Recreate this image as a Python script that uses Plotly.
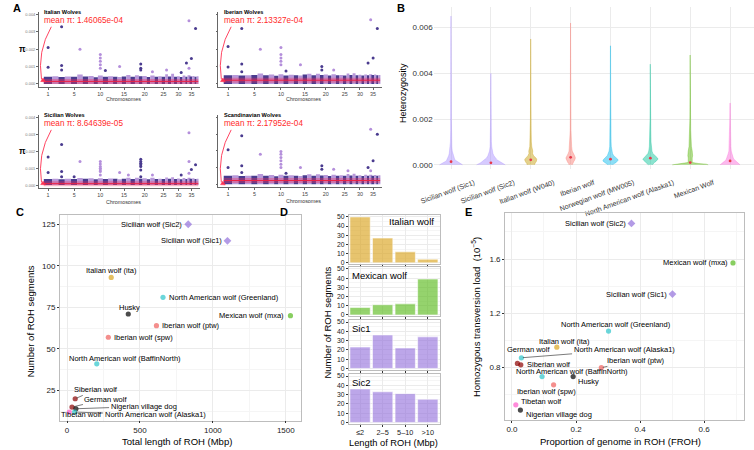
import numpy as np
import plotly.graph_objects as go

W, H = 754, 450

# ======================= DATA =======================
# ---- Panel A : nucleotide diversity (pi) along dog chromosomes ----
chrom_len_mb = [122.68, 85.43, 91.89, 88.28, 88.92, 77.57, 80.97, 74.75, 61.08, 69.33,
                74.39, 72.50, 63.24, 60.97, 64.19, 59.63, 64.29, 55.84, 53.74, 58.13,
                50.86, 61.44, 52.29, 47.70, 51.63, 38.96, 45.88, 41.18, 41.85, 40.21,
                39.80, 38.81, 31.38, 42.12, 26.52, 30.81, 30.90, 23.91]
chrom_tick_labels = [1, 5, 10, 15, 20, 25, 30, 35]
pop_titles = ["Italian Wolves", "Iberian Wolves", "Sicilian Wolves", "Scandinavian Wolves"]
pop_mean_pi = [1.46065e-04, 2.13327e-04, 8.64639e-05, 2.17952e-04]
PI_UNIT = 1e-4
# upper edge of the dense band of windows, per chromosome (x 1e-4)
band_top_ita = [4.2, 4.4, 4.0, 4.3, 4.1, 5.5, 4.3, 4.6, 3.9, 4.8, 4.1, 4.5, 4.2, 4.0, 4.3, 5.2, 4.1, 5.0, 4.4,
                4.6, 4.0, 4.8, 4.2, 4.4, 4.1, 5.6, 4.3, 5.8, 4.2, 4.5, 4.0, 4.9, 4.1, 5.0, 4.3, 4.6, 4.2, 4.4]
band_top_ibe = [5.0, 5.2, 4.8, 5.0, 5.1, 6.0, 5.0, 5.4, 4.7, 5.6, 4.9, 5.3, 5.0, 4.8, 5.5, 5.8, 5.0, 5.9, 5.2,
                5.4, 4.9, 5.6, 5.0, 5.2, 4.9, 6.0, 5.1, 6.2, 5.0, 5.3, 4.8, 5.5, 5.0, 5.6, 5.1, 5.4, 5.0, 5.2]
band_top_sic = [3.6, 3.8, 3.5, 3.7, 3.6, 4.2, 3.7, 4.0, 3.5, 4.1, 3.6, 3.9, 3.7, 3.5, 3.8, 4.4, 3.6, 4.3, 3.8,
                4.0, 3.5, 4.3, 3.6, 3.8, 3.6, 4.5, 3.7, 4.6, 3.6, 3.9, 3.5, 4.2, 3.6, 4.3, 3.7, 4.0, 3.6, 3.8]
band_top_sca = [5.0, 5.3, 4.9, 5.1, 5.0, 6.1, 5.1, 5.5, 4.8, 5.7, 5.0, 5.4, 5.1, 4.9, 5.4, 5.9, 5.0, 6.0, 5.2,
                5.5, 4.9, 5.7, 5.0, 5.3, 5.0, 6.1, 5.2, 6.3, 5.0, 5.4, 4.9, 5.6, 5.0, 5.7, 5.1, 5.5, 5.0, 5.3]
# outlying windows: chromosome and pi (x 1e-4)
out_chr_ita = [1, 1, 3, 3, 3, 6, 10, 10, 10, 10, 10, 11, 14, 19, 19, 19, 22, 26, 31, 33, 34, 34, 35, 37]
out_pi_ita = [21, 9.6, 33, 10.6, 8, 20, 17, 15, 13, 11, 9, 7.7, 10, 11.5, 9, 8, 7, 8, 6.6, 12, 36.4, 9, 14.7, 32]
out_chr_ibe = [1, 1, 3, 3, 3, 6, 10, 10, 10, 10, 10, 11, 14, 19, 19, 22, 33, 34, 35, 37]
out_pi_ibe = [21.5, 9.8, 32, 11.5, 7, 20, 21, 17, 15, 13, 11, 7.5, 11, 10, 8, 8, 12, 37, 15, 32]
out_chr_sic = [1, 1, 3, 3, 3, 5, 6, 10, 10, 10, 10, 10, 10, 10, 14, 16, 19, 19, 19, 19, 19, 19, 19, 22, 31,
               34, 34, 34, 35, 37]
out_pi_sic = [16.7, 7.4, 24, 8, 5, 5, 14, 14, 12.5, 11, 10, 9, 8, 6, 7.4, 6, 15.3, 14, 13, 12, 11, 9, 5, 6, 6,
              31, 14, 7, 9.3, 12]
out_chr_sca = [1, 1, 3, 3, 3, 6, 10, 10, 10, 10, 10, 10, 11, 14, 19, 19, 22, 26, 33, 34, 34, 35, 37]
out_pi_sca = [20.6, 10, 29, 11, 7, 18, 19.6, 18, 16, 14, 12, 10, 6.5, 10, 11, 9, 9, 8, 10, 33, 8, 14, 30]

# ---- Panel B : heterozygosity violins (density profile) ----
het_groups = ["Sicilian wolf (Sic1)", "Sicilian wolf (Sic2)", "Italian wolf (W040)", "Iberian wolf",
              "Norwegian wolf (MW005)", "North American wolf (Alaska1)", "Mexican Wolf", "Tibetan wolf (CAN8)"]
het_colors = ["#A58AFF", "#A58AFF", "#C49A00", "#F8766D", "#00B6EB", "#00C094", "#53B400", "#FB61D7"]
het_levels = [0, 0.00003, 0.00006, 0.0001, 0.00015, 0.0002, 0.00025, 0.0003, 0.0004, 0.0005, 0.0006,
              0.0008, 0.001, 0.0015, 0.002, 0.003]
het_halfwidth = [
    [0.29, 0.26, 0.22, 0.18, 0.14, 0.11, 0.09, 0.08, 0.06, 0.045, 0.03, 0.02, 0.015, 0.01, 0.008, 0.006],
    [0.36, 0.33, 0.29, 0.25, 0.20, 0.17, 0.14, 0.11, 0.075, 0.05, 0.035, 0.02, 0.013, 0.009, 0.007, 0.005],
    [0.09, 0.095, 0.10, 0.12, 0.14, 0.15, 0.15, 0.13, 0.07, 0.045, 0.05, 0.025, 0.015, 0.01, 0.008, 0.006],
    [0.04, 0.045, 0.05, 0.07, 0.08, 0.10, 0.11, 0.12, 0.10, 0.06, 0.04, 0.025, 0.017, 0.01, 0.008, 0.006],
    [0.06, 0.075, 0.09, 0.14, 0.18, 0.19, 0.18, 0.14, 0.08, 0.05, 0.035, 0.02, 0.015, 0.01, 0.007, 0.005],
    [0.05, 0.06, 0.07, 0.10, 0.14, 0.17, 0.19, 0.18, 0.11, 0.06, 0.04, 0.025, 0.017, 0.011, 0.008, 0.005],
    [0.45, 0.40, 0.20, 0.06, 0.05, 0.045, 0.045, 0.05, 0.06, 0.06, 0.05, 0.03, 0.02, 0.012, 0.009, 0.006],
    [0.25, 0.23, 0.20, 0.17, 0.14, 0.11, 0.095, 0.08, 0.06, 0.045, 0.03, 0.02, 0.015, 0.009, 0.007, 0.005],
]
het_max = [0.0065, 0.0040, 0.0055, 0.0062, 0.0052, 0.0044, 0.0048, 0.0027]
het_median = [0.00014, 0.00009, 0.00022, 0.00033, 0.00025, 0.00029, 0.00010, 0.00017]

# ---- Panels C & E : per-sample ROH statistics ----
samples = ["Sicilian wolf (Sic2)", "Sicilian wolf (Sic1)", "Italian wolf (ita)", "North American wolf (Greenland)",
           "Husky", "Mexican wolf (mxa)", "Iberian wolf (ptw)", "Iberian wolf (spw)",
           "North American wolf (BaffinNorth)", "Siberian wolf", "German wolf", "Nigerian village dog",
           "Tibetan wolf", "North American wolf (Alaska1)"]
sample_group = ["sic", "sic", "ita", "naw", "dog", "mex", "ibe", "ibe", "naw", "eur", "eur", "dog", "tib", "naw"]
roh_total_mbp = [831, 1100, 303, 658, 420, 1532, 613, 283, 204, 56, 34, 61, 16, 52]
roh_count = [125, 115, 93, 81, 71, 70, 64, 57, 41, 20, 15, 14, 12, 12]
froh = [0.373, 0.501, 0.140, 0.3015, 0.191, 0.690, 0.279, 0.130, 0.094, 0.0276, 0.017, 0.0264, 0.012, 0.0294]
hom_tv_load = [1.863, 1.341, 0.949, 1.068, 0.732, 1.571, 0.798, 0.671, 0.732, 0.819, 0.829, 0.485, 0.524, 0.871]

# ---- Panel D : ROH length classes ----
roh_bins = ["≤2", "2–5", "5–10", ">10"]
roh_facets = ["Italian wolf", "Mexican wolf", "Sic1", "Sic2"]
roh_bin_counts = [[50, 27, 12, 4], [8, 11, 12, 39], [23, 36, 22, 34], [36, 33, 31, 25]]

# ======================= STYLE =======================
FONT = "Liberation Sans, Arial, Helvetica, sans-serif"
group_color = {"sic": "#9370DB", "ita": "#DAA520", "naw": "#2CC5CB", "dog": "#000000",
               "mex": "#55B91C", "ibe": "#EF5F5C", "eur": "#8B0000", "tib": "#FF5ACB"}
group_symbol = {"sic": "diamond"}
facet_colors = ["rgba(218,165,32,0.65)", "rgba(92,187,30,0.65)", "rgba(147,112,219,0.62)",
                "rgba(147,112,219,0.62)"]
DARK, LIGHT = "#4A3B8F", "#B898DA"

fig = go.Figure()
L = dict(width=W, height=H, autosize=False, margin=dict(l=0, r=0, t=0, b=0, pad=0),
         paper_bgcolor="white", plot_bgcolor="white", showlegend=False, barmode="overlay",
         font=dict(family=FONT, size=8, color="black"))
ann, shp = [], []


def fx(p):
    return p / W


def fy(p):
    return 1 - p / H


def add_axes(n, x0, x1, y0, y1, xkw, ykw):
    s = "" if n == 1 else str(n)
    L["xaxis" + s] = dict(domain=[fx(x0), fx(x1)], anchor="y" + s, zeroline=False, **xkw)
    L["yaxis" + s] = dict(domain=[fy(y1), fy(y0)], anchor="x" + s, zeroline=False, **ykw)
    return "x" + s, "y" + s


def text(x, y, t, size=8, color="black", xanchor="center", angle=0, bold=False):
    ann.append(dict(x=fx(x), y=fy(y), xref="paper", yref="paper", text=("<b>%s</b>" % t) if bold else t,
                    showarrow=False, xanchor=xanchor, yanchor="middle", textangle=angle,
                    font=dict(size=size, color=color, family=FONT)))


# ======================= PANEL A =======================
clen = np.array(chrom_len_mb)
cstart = np.concatenate([[0], np.cumsum(clen)[:-1]])
ccent = cstart + clen / 2
ctot = clen.sum()
chr_num = np.arange(1, len(clen) + 1)
a_bands = [band_top_ita, band_top_ibe, band_top_sic, band_top_sca]
a_out_chr = [out_chr_ita, out_chr_ibe, out_chr_sic, out_chr_sca]
a_out_pi = [out_pi_ita, out_pi_ibe, out_pi_sic, out_pi_sca]
a_boxes = [(26, 190, 10, 86), (209, 375, 10, 86), (26, 190, 114, 188), (209, 375, 114, 187)]
axis_line = dict(showline=True, linecolor="#666", linewidth=0.8, ticks="outside", ticklen=1.5,
                 tickwidth=0.6, tickcolor="#666", showgrid=False)
RED = "#FF3050"
for k in range(4):
    x0, x1, y0, y1 = a_boxes[k]
    xr, yr = add_axes(k + 1, x0, x1, y0, y1,
                      dict(range=[-75, ctot + 20], tickvals=[ccent[c - 1] for c in chrom_tick_labels],
                           ticktext=[str(c) for c in chrom_tick_labels], tickfont=dict(size=5.4, color="#444"),
                           **axis_line),
                      dict(range=[-0.00019, 0.00415], tickvals=[0, 0.001, 0.002, 0.003, 0.004],
                           ticktext=["0.000", "0.001", "0.002", "0.003", "0.004"], showticklabels=(k % 2 == 0),
                           tickfont=dict(size=4, color="#777"), **axis_line))
    fig.add_trace(go.Bar(x=ccent, y=np.array(a_bands[k]) * PI_UNIT, width=clen,
                         marker=dict(color=[DARK if c % 2 else LIGHT for c in chr_num], line=dict(width=0)),
                         xaxis=xr, yaxis=yr, hoverinfo="skip"))
    oc = np.array(a_out_chr[k])
    fig.add_trace(go.Scatter(x=ccent[oc - 1], y=np.array(a_out_pi[k]) * PI_UNIT, mode="markers",
                             marker=dict(size=3, color=[DARK if c % 2 else "#B48FDB" for c in oc],
                                         line=dict(width=0)), xaxis=xr, yaxis=yr, hoverinfo="skip"))
    m = pop_mean_pi[k]
    fig.add_trace(go.Scatter(x=[0, ctot], y=[m, m], mode="lines",
                             line=dict(color="rgba(240,50,90,0.35)", width=5), xaxis=xr, yaxis=yr,
                             hoverinfo="skip"))
    fig.add_trace(go.Scatter(x=[0, ctot], y=[m, m], mode="lines", line=dict(color="#EE2244", width=1),
                             xaxis=xr, yaxis=yr, hoverinfo="skip"))
    text(x0 + 3.3, y0 + 0.5, pop_titles[k], size=5.6, xanchor="left", bold=True)
    text(x0 + 3.3, y0 + 8.8, "mean π: %.5e" % m, size=8.2, color="#FF2A2A", xanchor="left")
    # curved pointer from the label to the mean line
    shp.append(dict(type="path", xref="paper", yref="paper", line=dict(color=RED, width=0.9),
                    path="M %f,%f Q %f,%f %f,%f" % (fx(x0 + 13), fy(y0 + 15), fx(x0 - 1.5), fy(y0 + 40),
                                                      fx(x0 + 3), fy(y0 + 68))))
    shp.append(dict(type="path", xref="paper", yref="paper", line=dict(color=RED, width=0.6),
                    fillcolor=RED,
                    path="M %f,%f L %f,%f L %f,%f Z" % (fx(x0 + 7), fy(y0 + 70.5), fx(x0 + 2.2), fy(y0 + 70.2),
                                                        fx(x0 + 4.6), fy(y0 + 66.8))))
    text((x0 + x1) / 2 + 4, y1 + (12 if k < 2 else 14), "Chromosomes", size=5.4, color="#333")
    if k % 2 == 0:
        text(9.3, (y0 + y1) / 2 - 1, "π", size=8.5, bold=True)

# ======================= PANEL B =======================
xr, yr = add_axes(5, 428, 754, 5, 168,
                  dict(range=[0.563, 8.6], tickvals=list(range(1, 9)), ticktext=het_groups, tickangle=-20,
                       ticklabelshift=23, ticklabelstandoff=8, tickfont=dict(size=7, color="#333"),
                       showgrid=True, gridcolor="#EBEBEB", gridwidth=0.8, showline=False, ticks=""),
                  dict(range=[-0.00016, 0.0069], tickvals=[0, 0.002, 0.004, 0.006],
                       ticktext=["0.000", "0.002", "0.004", "0.006"], tickfont=dict(size=8, color="#333"),
                       showgrid=True, gridcolor="#EBEBEB", gridwidth=0.8, showline=False, ticks=""))


def hex_rgba(h, a):
    h = h.lstrip("#")
    return "rgba(%d,%d,%d,%.2f)" % (int(h[0:2], 16), int(h[2:4], 16), int(h[4:6], 16), a)


for i, g in enumerate(het_groups):
    c = i + 1
    ys = [lv for lv in het_levels if lv < het_max[i]] + [het_max[i]]
    ws = het_halfwidth[i][:len(ys) - 1] + [0.002]
    px_ = [c + w for w in ws] + [c - w for w in ws[::-1]]
    py_ = ys + ys[::-1]
    fig.add_trace(go.Scatter(x=px_, y=py_, mode="lines", fill="toself",
                             fillcolor=hex_rgba(het_colors[i], 0.45),
                             line=dict(color=hex_rgba(het_colors[i], 0.55), width=0.6),
                             xaxis=xr, yaxis=yr, hoverinfo="skip"))
fig.add_trace(go.Scatter(x=list(range(1, 9)), y=het_median, mode="markers",
                         marker=dict(size=2.8, color="#E8394A", line=dict(width=0)),
                         xaxis=xr, yaxis=yr, hoverinfo="skip"))
text(397, 91.7, "Heterozygosity", size=9, angle=-90)

# ======================= PANEL C =======================
border = dict(showline=True, mirror=True, linecolor="#BDBDBD", linewidth=0.8, ticks="outside", ticklen=2,
              tickwidth=0.6, tickcolor="#333", showgrid=True, gridcolor="#EBEBEB", gridwidth=0.7)
minor_grid = dict(showgrid=True, gridcolor="#F5F5F5", gridwidth=0.5, ticks="")
xr, yr = add_axes(6, 47.7, 293.3, 215, 422.3,
                  dict(range=[-49, 1606], tickvals=[0, 500, 1000, 1500], tickfont=dict(size=8, color="#222"),
                       minor=dict(tickvals=[250, 750, 1250], **minor_grid), **border),
                  dict(range=[6.9, 130.5], tickvals=[25, 50, 75, 100, 125], tickfont=dict(size=8, color="#222"),
                       minor=dict(tickvals=[12.5, 37.5, 62.5, 87.5, 112.5], **minor_grid), **border))
mcol = [group_color[g] for g in sample_group]
msym = [group_symbol.get(g, "circle") for g in sample_group]
msize = [6 if g == "sic" else 5.2 for g in sample_group]
fig.add_trace(go.Scatter(x=roh_total_mbp, y=roh_count, mode="markers",
                         marker=dict(color=mcol, symbol=msym, size=msize, line=dict(width=0)),
                         xaxis=xr, yaxis=yr, hoverinfo="skip"))
# label placement: (kind, xanchor, dx px, dy px down)
c_lab = [("t", "right", -4, 0), ("t", "right", -3.5, 0), ("t", "center", 0.7, -6.6), ("t", "left", 4, 0),
         ("t", "center", 1, -6), ("t", "right", -4, 0), ("t", "left", 4, 0), ("t", "left", 3.7, 0),
         ("t", "center", 28.5, -5.7), ("a", "center", 21, -9.4), ("a", "center", 34, -8),
         ("a", "center", 67.7, -2.3), ("t", "center", 11.7, 2.7), ("a", "center", 80.5, 2.7)]
e_lab = [("t", "right", -3.6, 0), ("t", "right", -3.4, 0), ("t", "center", 7.3, -5.7), ("t", "center", 7, -6.4),
         ("t", "left", 3.3, 4.7), ("t", "right", -3.4, 0), ("a", "center", 34.4, -7.3), ("t", "center", -6.7, 7),
         ("t", "center", 29.6, -5), ("t", "left", 4, -0.3), ("t", "center", 11.4, -14),
         ("t", "left", 3.7, 4.6), ("t", "left", 3.6, -3), ("a", "center", 102.7, -8)]


def add_labels(xs, ys, labs, xr, yr):
    for i, nm in enumerate(samples):
        kind, xa, dx, dy = labs[i]
        if kind == "t":
            ann.append(dict(x=xs[i], y=ys[i], xref=xr, yref=yr, text=nm, showarrow=False, xanchor=xa,
                            yanchor="middle", xshift=dx, yshift=-dy, font=dict(size=7.5, family=FONT)))
        else:
            ann.append(dict(x=xs[i], y=ys[i], xref=xr, yref=yr, text=nm, showarrow=True, arrowhead=0,
                            arrowwidth=0.6, arrowcolor="#222", ax=dx, ay=dy, standoff=1.5,
                            font=dict(size=7.5, family=FONT)))


add_labels(roh_total_mbp, roh_count, c_lab, xr, yr)
text(18, 322.5, "Number of ROH segments", size=9.5, angle=-90)
text(167, 443.5, "Total length of ROH (Mbp)", size=9.5)

# ======================= PANEL D =======================
d_boxes = [(215, 264.5), (267.5, 317), (321, 371), (375.5, 425.5)]
for j in range(4):
    t0, t1 = d_boxes[j]
    last = j == 3
    xr, yr = add_axes(7 + j, 341.7, 434, t0, t1,
                      dict(range=[-0.5, 3.52], tickvals=[0, 1, 2, 3], ticktext=roh_bins, showticklabels=last,
                           tickfont=dict(size=7.3, color="#222"), **border),
                      dict(range=[-1.4, 52], tickvals=[0, 10, 20, 30, 40, 50], tickfont=dict(size=6.8, color="#222"),
                           minor=dict(tickvals=[5, 15, 25, 35, 45], **minor_grid), **border))
    fig.add_trace(go.Bar(x=[0, 1, 2, 3], y=roh_bin_counts[j], width=0.9,
                         marker=dict(color=facet_colors[j], line=dict(color="rgba(255,255,255,0.7)", width=0.8)),
                         xaxis=xr, yaxis=yr, hoverinfo="skip"))
    if j == 0:
        text(430, t0 + 6.2, roh_facets[j], size=9.5, xanchor="right")
    else:
        text(342.5, t0 + 8.3, roh_facets[j], size=9.5, xanchor="left")
text(320, 323, "Number of ROH segments", size=9.5, angle=-90)
text(387, 444.6, "Length of ROH (Mbp)", size=9.3)

# ======================= PANEL E =======================
xr, yr = add_axes(11, 500.7, 744.3, 213, 421.7,
                  dict(range=[-0.0215, 0.7258], tickvals=[0, 0.2, 0.4, 0.6], ticktext=["0.0", "0.2", "0.4", "0.6"],
                       tickfont=dict(size=8, color="#222"),
                       minor=dict(tickvals=[0.1, 0.3, 0.5, 0.7], **minor_grid), **border),
                  dict(range=[0.412, 1.939], tickvals=[0.8, 1.2, 1.6], ticktext=["0.8", "1.2", "1.6"],
                       tickfont=dict(size=8, color="#222"),
                       minor=dict(tickvals=[0.6, 1.0, 1.4, 1.8], **minor_grid), **border))
fig.add_trace(go.Scatter(x=froh, y=hom_tv_load, mode="markers",
                         marker=dict(color=mcol, symbol=msym, size=msize, line=dict(width=0)),
                         xaxis=xr, yaxis=yr, hoverinfo="skip"))
add_labels(froh, hom_tv_load, e_lab, xr, yr)
text(471.7, 318.3, "Homozygous transversion load  (10<sup>−5</sup>)", size=9.5, angle=-90)
text(618, 443, "Proportion of genome in ROH (FROH)", size=9.5)

# ======================= PANEL LETTERS =======================
for lt, x, y in [("A", 4, 6), ("B", 395, 6), ("C", 7, 212), ("D", 276, 212), ("E", 463, 212)]:
    text(x, y, lt, size=11, xanchor="center", bold=True)

L["annotations"] = ann
L["shapes"] = shp
fig.update_layout(**L)
fig.write_html("out.html", config={"displayModeBar": False},
               post_script="document.body.style.margin='0px';document.body.style.padding='0px';")
